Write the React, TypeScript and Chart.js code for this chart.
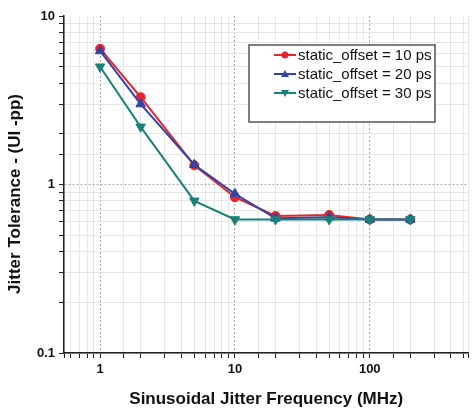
import { useEffect, useRef } from 'react';
import { Chart, registerables } from 'chart.js';

Chart.register(...registerables);

const frequencies = [1, 2, 5, 10, 20, 50, 100, 200];
const offset10 = [6.4, 3.3, 1.3, 0.84, 0.65, 0.66, 0.62, 0.62];
const offset20 = [6.2, 3.0, 1.31, 0.88, 0.63, 0.64, 0.62, 0.62];
const offset30 = [5.0, 2.2, 0.8, 0.62, 0.62, 0.62, 0.62, 0.62];
const seriesLabels = ['static_offset = 10 ps', 'static_offset = 20 ps', 'static_offset = 30 ps'];
const seriesColors = ['#e8232b', '#3443a6', '#1b8078'];
const xTitle = 'Sinusoidal Jitter Frequency (MHz)';
const yTitle = 'Jitter Tolerance - (UI -pp)';

const isDecade = (v: number) => Math.abs(Math.log10(v) - Math.round(Math.log10(v))) < 1e-6;

const legendPlugin = {
  id: 'boxLegend',
  afterDraw(chart: any) {
    const ctx = chart.ctx;
    const x0 = 249, y0 = 45, w = 186, h = 77;
    ctx.save();
    ctx.fillStyle = '#ffffff';
    ctx.fillRect(x0, y0, w, h);
    ctx.strokeStyle = '#555555';
    ctx.lineWidth = 1.5;
    ctx.strokeRect(x0, y0, w, h);
    chart.data.datasets.forEach((ds: any, i: number) => {
      const cy = y0 + 10 + i * 19;
      ctx.strokeStyle = ds.borderColor;
      ctx.lineWidth = 2;
      ctx.beginPath();
      ctx.moveTo(274, cy);
      ctx.lineTo(296, cy);
      ctx.stroke();
      ctx.fillStyle = ds.backgroundColor;
      ctx.beginPath();
      if (ds.pointStyle === 'circle') {
        ctx.arc(285, cy, 3.5, 0, Math.PI * 2);
      } else if (ds.pointRotation === 180) {
        ctx.moveTo(281, cy - 3);
        ctx.lineTo(289, cy - 3);
        ctx.lineTo(285, cy + 4);
      } else {
        ctx.moveTo(281, cy + 3);
        ctx.lineTo(289, cy + 3);
        ctx.lineTo(285, cy - 4);
      }
      ctx.closePath();
      ctx.fill();
      ctx.fillStyle = '#111111';
      ctx.font = '15px "Liberation Sans", Arial, sans-serif';
      ctx.textBaseline = 'middle';
      ctx.textAlign = 'left';
      ctx.fillText(ds.label, 298, cy + 0.5);
    });
    ctx.restore();
  },
};

export default function App() {
  const ref = useRef<HTMLCanvasElement | null>(null);
  useEffect(() => {
    if (!ref.current) return;
    const mk = (vals: number[]) => frequencies.map((f, i) => ({ x: f, y: vals[i] }));
    const chart = new Chart(ref.current, {
      type: 'line',
      data: {
        datasets: [
          {
            label: seriesLabels[0], data: mk(offset10), borderColor: seriesColors[0], backgroundColor: seriesColors[0],
            pointStyle: 'circle', pointRadius: 4.5, borderWidth: 2, pointBorderWidth: 1, order: 3,
          },
          {
            label: seriesLabels[1], data: mk(offset20), borderColor: seriesColors[1], backgroundColor: seriesColors[1],
            pointStyle: 'triangle', pointRadius: 5.5, borderWidth: 2, pointBorderWidth: 1, order: 2,
          },
          {
            label: seriesLabels[2], data: mk(offset30), borderColor: seriesColors[2], backgroundColor: seriesColors[2],
            pointStyle: 'triangle', pointRotation: 180, pointRadius: 5.5, borderWidth: 2, pointBorderWidth: 1, order: 1,
          },
        ],
      } as any,
      options: {
        animation: false,
        responsive: false,
        maintainAspectRatio: false,
        layout: { padding: { left: 0, top: 16, right: 0, bottom: 0 } },
        plugins: { legend: { display: false }, tooltip: { enabled: false } },
        scales: {
          x: {
            type: 'logarithmic',
            min: 0.54,
            max: 540,
            afterFit: (s: any) => { s.height = 57; },
            grid: {
              color: (c: any) => (c.tick && isDecade(c.tick.value) ? '#a8a8a8' : '#e6e6e6'),
              tickColor: '#222222',
              tickLength: 5,
              lineWidth: 1,
            },
            border: { display: true, color: '#222222', width: 1.5, dash: (c: any) => (c.tick && isDecade(c.tick.value) ? [2, 2] : []) } as any,
            ticks: {
              autoSkip: false,
              maxRotation: 0,
              padding: 4,
              color: '#111111',
              font: { family: '"Liberation Sans", Arial, sans-serif', size: 13, weight: 'bold' },
              callback: (v: any) => (isDecade(Number(v)) ? String(Number(v)) : ''),
            },
            title: {
              display: true,
              text: xTitle,
              color: '#111111',
              font: { family: '"Liberation Sans", Arial, sans-serif', size: 17, weight: 'bold' },
              padding: { top: 2, bottom: 0 },
            },
          },
          y: {
            type: 'logarithmic',
            min: 0.1,
            max: 10,
            afterFit: (s: any) => { s.width = 64; },
            grid: {
              color: (c: any) => {
                if (!c.tick) return '#e6e6e6';
                const v = c.tick.value;
                if (Math.abs(v - 10) < 1e-6) return 'rgba(0,0,0,0)';
                return isDecade(v) ? '#a8a8a8' : '#e6e6e6';
              },
              tickColor: '#222222',
              tickLength: 5,
              lineWidth: 1,
            },
            border: { display: true, color: '#222222', width: 1.5, dash: (c: any) => (c.tick && isDecade(c.tick.value) ? [2, 2] : []) } as any,
            ticks: {
              autoSkip: false,
              padding: 4,
              color: '#111111',
              font: { family: '"Liberation Sans", Arial, sans-serif', size: 13, weight: 'bold' },
              callback: (v: any) => (isDecade(Number(v)) ? String(Number(v)) : ''),
            },
            title: {
              display: true,
              text: yTitle + '    ',
              color: '#111111',
              font: { family: '"Liberation Sans", Arial, sans-serif', size: 17, weight: 'bold' },
              padding: { top: 5, bottom: 0 },
            },
          },
        },
      } as any,
      plugins: [legendPlugin],
    });
    return () => chart.destroy();
  }, []);
  return (
    <div style={{ position: 'fixed', left: 0, top: 0, width: 475, height: 410, background: '#ffffff' }}>
      <canvas ref={ref} width={475} height={410} style={{ width: 475, height: 410 }} />
    </div>
  );
}
